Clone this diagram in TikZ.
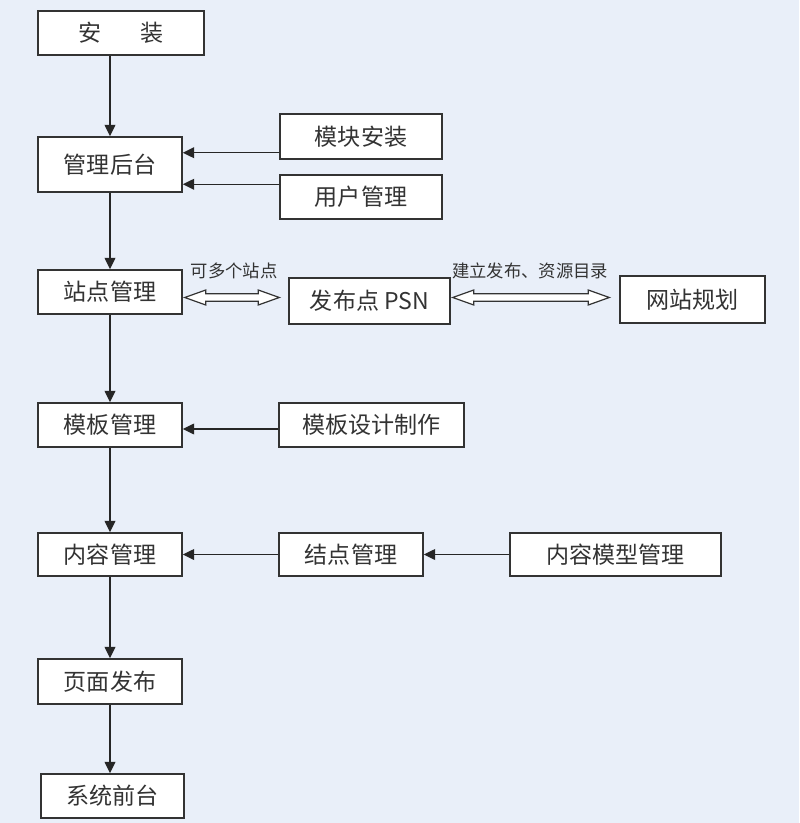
\documentclass[tikz,border=0pt]{standalone}
\usepackage{fontspec}
\setmainfont{Noto Sans CJK SC}
\usetikzlibrary{calc,arrows.meta}
\definecolor{bg}{HTML}{E9EFF9}
\definecolor{edge}{HTML}{333333}
\definecolor{txt}{HTML}{333333}
\tikzset{
  box/.style={draw=edge, line width=1.1pt, fill=white, rectangle, inner sep=0pt,
    font=\fontsize{17.3pt}{19pt}\selectfont, text=txt},
  lbl/.style={font=\fontsize{13pt}{14pt}\selectfont, text=txt, inner sep=0pt},
  arr/.style={draw=black!85, line width=1.05pt, -{Triangle[length=8.5pt,width=8pt]}},
  hollow/.style={draw=edge, line width=0.9pt, fill=white, line join=miter}
}
\newcommand{\bx}[6]{\node[box, minimum width={(#4-#2)*0.75pt}, minimum height={(#5-#3)*0.75pt}] (#1) at ({(#2+#4)/2},{(#3+#5)/2}) {#6};}
\newcommand{\dblarrow}[2]{%
  \draw[hollow] (#1) -- ++(21,-7.5) -- ++(0,3.7) -- ($(#2)+(-21,-3.8)$) -- ($(#2)+(-21,-7.5)$) -- (#2)
    -- ($(#2)+(-21,7.5)$) -- ($(#2)+(-21,3.8)$) -- ($(#1)+(21,3.8)$) -- ($(#1)+(21,7.5)$) -- cycle;}
\begin{document}
\begin{tikzpicture}[x=0.75pt,y=-0.75pt]
\fill[bg] (0,0) rectangle (799,823);
\useasboundingbox (0,0) rectangle (799,823);
\bx{az}{38}{11}{204}{55}{安\hspace{1.7em}装}
\bx{gl}{38}{137}{182}{192}{管理后台}
\bx{mk}{280}{114}{442}{159}{模块安装}
\bx{yh}{280}{175}{442}{219}{用户管理}
\bx{zd}{38}{270}{182}{314}{站点管理}
\bx{psn}{289}{278}{450}{324}{发布点 PSN}
\bx{wz}{620}{276}{765}{323}{网站规划}
\bx{mb}{38}{403}{182}{447}{模板管理}
\bx{mbsj}{279}{403}{464}{447}{模板设计制作}
\bx{nr}{38}{533}{182}{576}{内容管理}
\bx{jd}{279}{533}{423}{576}{结点管理}
\bx{nrmx}{510}{533}{721}{576}{内容模型管理}
\bx{ym}{38}{659}{182}{704}{页面发布}
\bx{xt}{41}{774}{184}{818}{系统前台}
% vertical flow
\draw[arr] (gl.north |- az.south) -- (gl.north);
\draw[arr] (gl.south) -- (zd.north);
\draw[arr] (zd.south) -- (mb.north);
\draw[arr] (mb.south) -- (nr.north);
\draw[arr] (nr.south) -- (ym.north);
\draw[arr] (ym.south) -- (ym.south |- xt.north);
% horizontal inputs
\coordinate (m1) at ($(mk.south west)+(0,-7)$);
\draw[arr] (m1) -- (m1 -| gl.east);
\coordinate (y1) at ($(yh.north west)+(0,10)$);
\draw[arr] (y1) -- (y1 -| gl.east);
\coordinate (s1) at ($(mbsj.west)+(0,4)$);
\draw[arr] (s1) -- (s1 -| mb.east);
\draw[arr] (jd.west) -- (jd.west -| nr.east);
\draw[arr] (nrmx.west) -- (nrmx.west -| jd.east);
% double arrows
\coordinate (d1s) at ($(zd.east)+(2,5.5)$);
\coordinate (d1e) at ($(psn.west)+(-9,-3.5)$);
\dblarrow{d1s}{d1e}
\coordinate (d2s) at ($(psn.east)+(2,-3.5)$);
\coordinate (d2e) at ($(wz.west)+(-10,-2)$);
\dblarrow{d2s}{d2e}
\node[lbl] (l1) at (234,271) {可多个站点};
\node[lbl] (l2) at (530,271) {建立发布、资源目录};
\end{tikzpicture}
\end{document}
